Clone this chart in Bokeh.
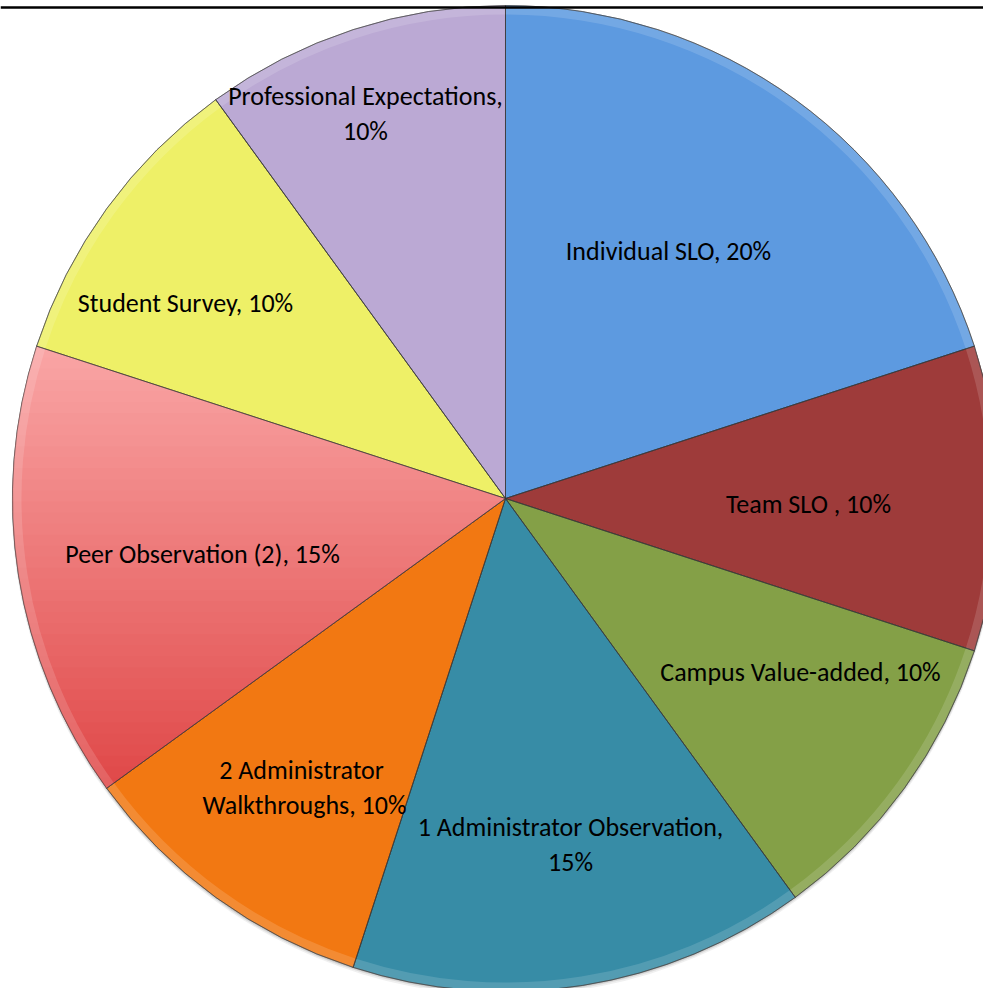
import numpy as np
from bokeh.plotting import figure
from bokeh.models import Range1d, ColumnDataSource
from bokeh.core.properties import value
from bokeh.embed import file_html
from bokeh.resources import INLINE

# ---- data ----
categories = ["Individual SLO", "Team SLO ", "Campus Value-added",
              "1 Administrator Observation", "2  Administrator Walkthroughs",
              "Peer Observation (2)", "Student Survey", "Professional Expectations"]
shares = [20, 10, 10, 15, 10, 15, 10, 10]
label_texts = ["Individual SLO, 20%", "Team SLO , 10%", "Campus Value-added, 10%",
               "1 Administrator Observation,\n15%", "2  Administrator\nWalkthroughs, 10%",
               "Peer Observation (2), 15%", "Student Survey, 10%",
               "Professional Expectations,\n10%"]
colors = ["#5D9AE0", "#9E3B3A", "#84A047", "#378CA6", "#F27812",
          "#F28585", "#EEF067", "#BBA9D4"]

# ---- layout (pixels) ----
W, H = 983, 988
CX, CY, R = 505, H - 498, 493
# label centres in pixel coordinates (x from left, y from top)
label_pos = [(668, 250), (808, 503), (800, 671), (570, 844), (304, 787),
             (202, 553), (185, 302), (365, 113)]

p = figure(width=W, height=H, x_range=Range1d(0, W), y_range=Range1d(0, H),
           output_backend="svg", toolbar_location=None, min_border=0)
p.axis.visible = False
p.grid.visible = False
p.outline_line_color = None
p.background_fill_color = "white"
p.border_fill_color = "white"

vals = np.array(shares, dtype=float)
fr = vals / vals.sum()
cum = np.concatenate([[0], np.cumsum(fr)])
start = np.pi / 2 - 2 * np.pi * cum[:-1]
end = np.pi / 2 - 2 * np.pi * cum[1:]

# soft shadow under the pie
for off, a in [(3, 0.08), (1.8, 0.12), (0.8, 0.18)]:
    p.circle(x=[CX], y=[CY - off], radius=R + off * 0.3,
             fill_color="#404040", fill_alpha=a, line_color=None)

src = ColumnDataSource(dict(start=start, end=end, color=colors, cat=categories))
p.wedge(x=CX, y=CY, radius=R, start_angle="start", end_angle="end",
        direction="clock", fill_color="color", line_color="#444444",
        line_alpha=0.55, line_width=1, source=src)

# vertical gradient for the Peer Observation slice
i = 5
angs = np.linspace(start[i], end[i], 80)
poly = [(CX, CY)] + [(CX + R * np.cos(a), CY + R * np.sin(a)) for a in angs]

def clip(polygon, y0, keep_above):
    out = []
    n = len(polygon)
    for k in range(n):
        a = polygon[k]; b = polygon[(k + 1) % n]
        ina = a[1] >= y0 if keep_above else a[1] <= y0
        inb = b[1] >= y0 if keep_above else b[1] <= y0
        if ina:
            out.append(a)
        if ina != inb:
            t = (y0 - a[1]) / (b[1] - a[1])
            out.append((a[0] + t * (b[0] - a[0]), y0))
    return out

ys = [pt[1] for pt in poly]
ymin, ymax = min(ys), max(ys)
nb = 40
top_c = np.array([0xFA, 0xA6, 0xA6]); bot_c = np.array([0xE0, 0x48, 0x48])
gx, gy, gc = [], [], []
edges = np.linspace(ymin, ymax, nb + 1)
for k in range(nb):
    lo, hi = edges[k] - 0.6, edges[k + 1] + 0.6
    part = clip(clip(poly, lo, True), hi, False)
    if len(part) < 3:
        continue
    t = 1 - (k + 0.5) / nb  # 1 at bottom
    c = top_c * (1 - t) + bot_c * t
    gx.append([q[0] for q in part]); gy.append([q[1] for q in part])
    gc.append("#%02x%02x%02x" % tuple(int(v) for v in c))
p.patches(gx, gy, fill_color=gc, line_color=None)

# bevel: light rim and inner darker edge
p.annular_wedge(x=CX, y=CY, inner_radius=R - 9, outer_radius=R, start_angle="start",
                end_angle="end", direction="clock", fill_color="white", fill_alpha=0.14,
                line_color=None, source=src)
p.wedge(x=CX, y=CY, radius=R, start_angle="start", end_angle="end",
        direction="clock", fill_color=None, line_color="#333333",
        line_alpha=0.5, line_width=1, source=src)

# labels
lx = [q[0] for q in label_pos]
ly = [H - q[1] for q in label_pos]
p.text(x=lx, y=ly, text=label_texts, text_align="center", text_baseline="middle",
       text_font=value("Carlito, Lato"), text_font_size="26px", text_line_height=1.07,
       text_color="black")

# top rule
p.segment(x0=[0], y0=[H - 7], x1=[W], y1=[H - 7], line_color="black", line_width=2.5)

open("out.html", "w").write(file_html(p, INLINE))
